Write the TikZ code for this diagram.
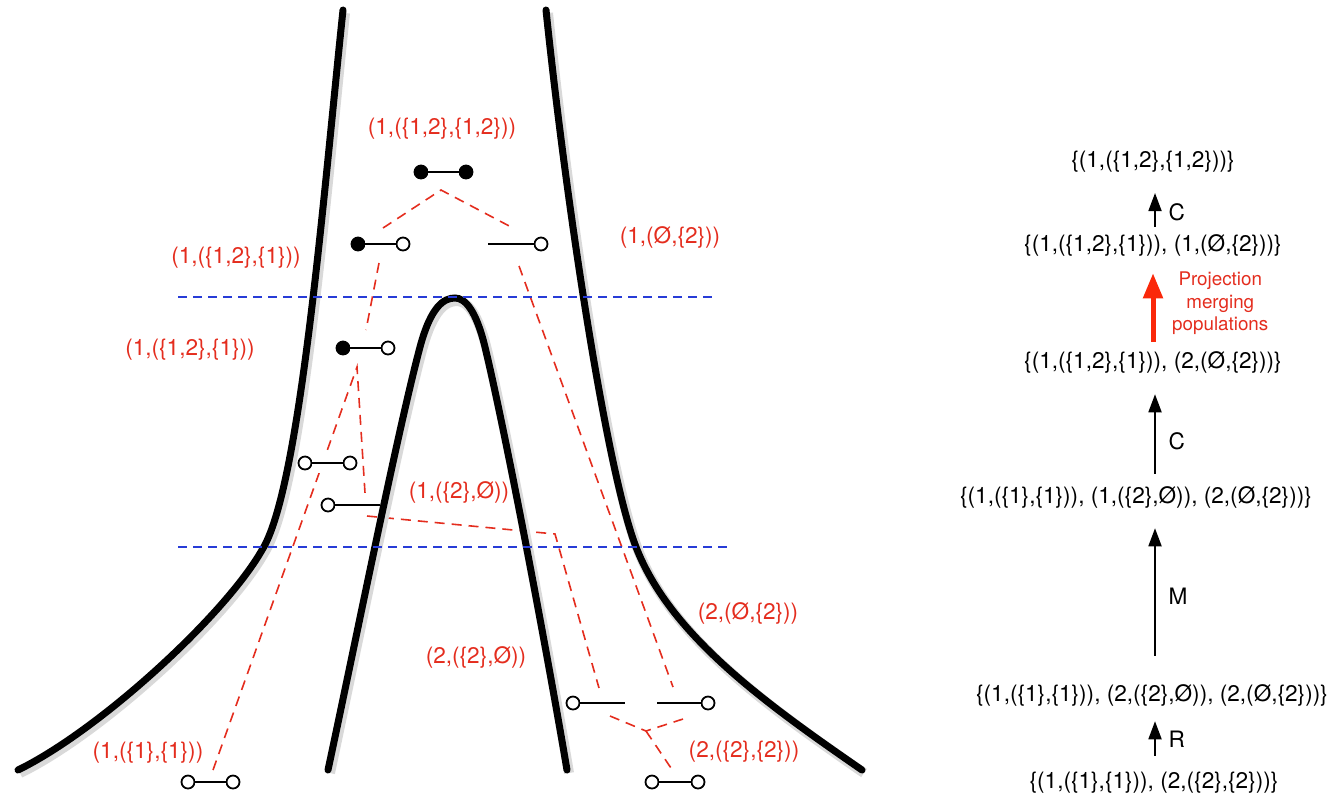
\documentclass[tikz,border=0pt]{standalone}
\usepackage{fontspec}
\setmainfont{TeX Gyre Heros}
\usetikzlibrary{arrows.meta}
\definecolor{rosso}{RGB}{228,45,30}
\definecolor{rossovivo}{RGB}{250,40,10}
\definecolor{blu}{RGB}{40,60,215}

\begin{document}
\begin{tikzpicture}[x=.5pt,y=-.5pt,font=\fontsize{11.3}{13.5}\selectfont,
  pieno/.style={circle,draw,fill=black,line width=.9pt,inner sep=0pt,minimum size=6.5pt},
  vuoto/.style={circle,draw,fill=white,line width=.9pt,inner sep=0pt,minimum size=6.5pt},
  barra/.style={line width=.8pt,preaction={draw=white,line width=10pt}},
  genea/.style={rosso,dash pattern=on 5pt off 3.5pt,line width=.8pt},
  taglio/.style={blu,dash pattern=on 4.5pt off 3pt,line width=.8pt},
  bordo/.style={line width=3.5pt,line cap=round,
    preaction={draw=black!15,line width=5pt,transform canvas={shift={(1pt,-1.5pt)}}}},
  etic/.style={rosso},
  freccia/.style={-{Triangle[length=9pt,width=6.5pt]},line width=.9pt}]

\useasboundingbox (0,0) rectangle (1336,800);

% genealogia
\draw[genea] (383,228) -- (441,190) -- (513,228);
\draw[genea] (379,263) -- (366,330);
\draw[genea] (519,266) -- (673,687);
\draw[genea] (213,770) -- (357,367) -- (365,493);
\draw[genea] (367,516) -- (555,534) -- (599,688);
\draw[genea] (610,716) -- (646,731) -- (683,719);
\draw[genea] (646,731) -- (673,771);

% aplotipi
\node[pieno] (a1) at (421,172) {};
\node[pieno] (a2) at (466,172) {};
\draw[barra] (a1) -- (a2);

\node[pieno] (b1) at (358,244) {};
\node[vuoto] (b2) at (403,244) {};
\draw[barra] (b1) -- (b2);

\coordinate (c1) at (488,244);
\node[vuoto] (c2) at (541,244) {};
\draw[barra] (c1) -- (c2);

\node[pieno] (d1) at (343,348) {};
\node[vuoto] (d2) at (388,348) {};
\draw[barra] (d1) -- (d2);

\node[vuoto] (e1) at (305,463) {};
\node[vuoto] (e2) at (350,463) {};
\draw[barra] (e1) -- (e2);

\node[vuoto] (f1) at (328,505) {};
\coordinate (f2) at (380,505);
\draw[barra] (f1) -- (f2);

\node[vuoto] (g1) at (573,703) {};
\coordinate (g2) at (625,703);
\draw[barra] (g1) -- (g2);

\coordinate (h1) at (657,703);
\node[vuoto] (h2) at (708,703) {};
\draw[barra] (h1) -- (h2);

\node[vuoto] (i1) at (652,782) {};
\node[vuoto] (i2) at (698,782) {};
\draw[barra] (i1) -- (i2);

\node[vuoto] (j1) at (188,782) {};
\node[vuoto] (j2) at (233,782) {};
\draw[barra] (j1) -- (j2);

% popolazioni
\draw[bordo] (343,10) .. controls (323,200) and (300,490) .. (262,550)
  .. controls (225,615) and (100,730) .. (18,770);
\draw[bordo] (546,10) .. controls (568,220) and (608,475) .. (636,547)
  .. controls (670,635) and (765,703) .. (862,770);
\draw[bordo] (328,770) .. controls (360,620) and (398,430) .. (420,347)
  .. controls (431,306) and (444,298) .. (455,298)
  .. controls (465,298) and (476,310) .. (485,347)
  .. controls (505,430) and (545,640) .. (567,770);

\draw[taglio] (178,297) -- (718,297);
\draw[taglio] (178,547) -- (728,547);

\node[etic] (l1) at (442,129) {(1,(\{1,2\},\{1,2\}))};
\node[etic] (l2) at (236,258) {(1,(\{1,2\},\{1\}))};
\node[etic] (l3) at (670,237) {(1,(Ø,\{2\}))};
\node[etic] (l4) at (190,350) {(1,(\{1,2\},\{1\}))};
\node[etic] (l5) at (459,492) {(1,(\{2\},Ø))};
\node[etic] (l6) at (748,613) {(2,(Ø,\{2\}))};
\node[etic] (l7) at (476,657) {(2,(\{2\},Ø))};
\node[etic] (l8) at (744,752) {(2,(\{2\},\{2\}))};
\node[etic] (l9) at (148,753) {(1,(\{1\},\{1\}))};

% stati
\begin{scope}[every node/.style={inner sep=0pt}]
\node (s0) at (1154,783) {\{(1,(\{1\},\{1\})), (2,(\{2\},\{2\}))\}};
\node (s1) at (1152,695) {\{(1,(\{1\},\{1\})), (2,(\{2\},Ø)), (2,(Ø,\{2\}))\}};
\node (s2) at (1136,497) {\{(1,(\{1\},\{1\})), (1,(\{2\},Ø)), (2,(Ø,\{2\}))\}};
\node (s3) at (1153,362) {\{(1,(\{1,2\},\{1\})), (2,(Ø,\{2\}))\}};
\node (s4) at (1153,245) {\{(1,(\{1,2\},\{1\})), (1,(Ø,\{2\}))\}};
\node (s5) at (1153,162) {\{(1,(\{1,2\},\{1,2\}))\}};
\end{scope}
\coordinate (ax) at (1155,0);
\coordinate (rx) at (1153,0);

\draw[freccia, shorten <=8pt, shorten >=7.5pt] (s0.north -| ax) -- node[right=3pt] (r) {R} (s1.south -| ax);
\draw[freccia, shorten <=14pt, shorten >=10pt] (s1.north -| ax) -- node[right=3pt] (m) {M} (s2.south -| ax);
\draw[freccia, shorten <=6pt, shorten >=10.5pt] (s2.north -| ax) -- node[right=3pt, pos=.4] (cb) {C} (s3.south -| ax);
\draw[rossovivo, line width=2.5pt, -{Triangle[length=12.5pt,width=9.5pt]}, shorten <=4.5pt, shorten >=8.5pt] (s3.north -| rx) -- node[right=5pt, rosso, align=center, font=\fontsize{9.4}{11.25}\selectfont] (pm) {Projection\\merging\\populations} (s4.south -| rx);
\draw[freccia, shorten <=3.5pt, shorten >=10pt] (s4.north -| ax) -- node[right=3pt, pos=.35] (ca) {C} (s5.south -| ax);

\end{tikzpicture}
\end{document}
